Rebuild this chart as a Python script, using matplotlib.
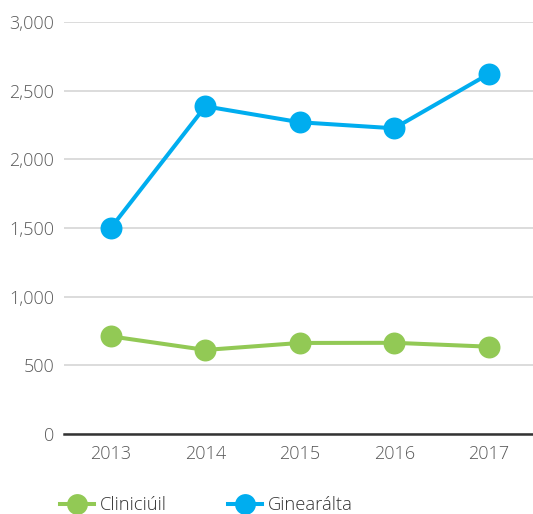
import matplotlib
matplotlib.use("Agg")
import matplotlib.pyplot as plt

years = ["2013", "2014", "2015", "2016", "2017"]
clinical = [711, 612, 663, 664, 636]
general = [1502, 2386, 2270, 2226, 2621]
series_names = ["Cliniciúil", "Ginearálta"]
y_ticks = [0, 500, 1000, 1500, 2000, 2500, 3000]

GREEN = "#92c955"
BLUE = "#00adef"

plt.rcParams["font.family"] = ["Open Sans", "DejaVu Sans"]

fig = plt.figure(figsize=(5.33, 5.14), dpi=100)
ax = fig.add_axes([63.8 / 533, 80 / 514, 472 / 533, 412 / 514])

x = list(range(len(years)))
for vals, color, name in [(clinical, GREEN, series_names[0]), (general, BLUE, series_names[1])]:
    ax.plot(x, vals, color=color, lw=2.9, marker="o", markersize=15.8,
            markeredgewidth=0, label=name, clip_on=False, zorder=3)

ax.set_xlim(-0.5, 4.5)
ax.set_ylim(0, 3000)
ax.set_yticks(y_ticks)
ax.set_yticklabels([f"{v:,}" for v in y_ticks])
ax.set_xticks(x)
ax.set_xticklabels(years)

ax.yaxis.grid(True, color="#d9d9d9", lw=1.3)
ax.set_axisbelow(True)
for s in ["top", "right", "left"]:
    ax.spines[s].set_visible(False)
ax.spines["bottom"].set_color("#333333")
ax.spines["bottom"].set_linewidth(1.8)
ax.spines["bottom"].set_zorder(2)

ax.tick_params(axis="both", length=0, labelsize=13, labelcolor="#5a5a5a",
               which="both")
ax.tick_params(axis="y", pad=7)
ax.tick_params(axis="x", pad=8)
for lab in ax.get_xticklabels() + ax.get_yticklabels():
    lab.set_fontweight("light")

leg = fig.legend(loc="center left", bbox_to_anchor=(60 / 533, 9 / 514),
                 ncol=2, frameon=False, borderpad=0, borderaxespad=0,
                 handlelength=1.85, handletextpad=0.35, columnspacing=3.3,
                 fontsize=13.2)
for t in leg.get_texts():
    t.set_color("#333333")
    t.set_fontweight("light")
for h in leg.legend_handles:
    h.set_markersize(15)

fig.savefig("out.png", dpi=100)
